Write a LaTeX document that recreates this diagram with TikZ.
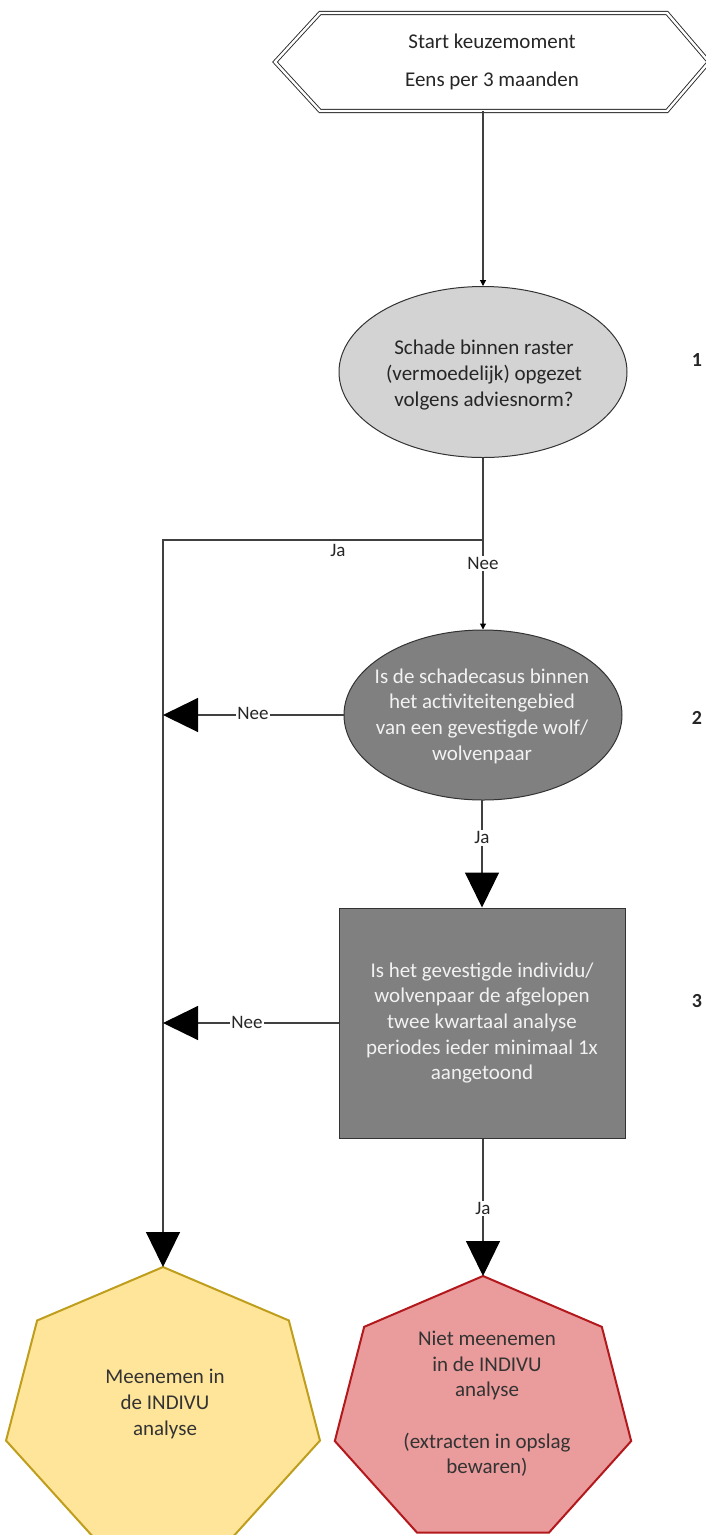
\documentclass[tikz,border=0pt]{standalone}
\usepackage{fontspec}
\setmainfont{Carlito}
\usetikzlibrary{arrows.meta,shapes.geometric}
\definecolor{lightfill}{RGB}{211,211,211}
\definecolor{darkfill}{RGB}{128,128,128}
\definecolor{yfill}{RGB}{255,229,153}
\definecolor{ydraw}{RGB}{190,158,28}
\definecolor{rfill}{RGB}{234,155,155}
\definecolor{rdraw}{RGB}{178,24,28}
\definecolor{linecol}{RGB}{64,64,64}
\definecolor{lighttext}{RGB}{242,242,242}
\tikzset{
  main/.style={font=\fontsize{21}{25.6}\selectfont, align=center, inner sep=0pt},
  lbl/.style={font=\fontsize{19}{22}\selectfont, fill=white, inner sep=1.5pt, text=black!85},
  numlbl/.style={font=\fontsize{20}{22}\selectfont\bfseries, text=black!85},
  conn/.style={draw=linecol, line width=1.1pt},
  smallarrow/.style={conn, -{Triangle[length=6pt,width=6pt,color=black]}},
  bigarrow/.style={conn, -{Triangle[length=35pt,width=34pt,color=black]}},
  shapeborder/.style={draw=black!80, line width=1pt},
}
\begin{document}
\begin{tikzpicture}[x=1pt,y=-1pt]
\useasboundingbox (0,0) rectangle (705,1535);
% start hexagon (double outline)
\draw[draw=black!85, double=white, double distance=2.4pt, line width=0.9pt, line join=miter]
  (275,62) -- (320,13) -- (667,13) -- (709,62) -- (667,111) -- (320,111) -- cycle;
\node[main, text=black!85] (start) at (492,62) {Start keuzemoment\\[12.4pt]Eens per 3 maanden};
\coordinate (startbot) at (483,111);
% question 1
\node[ellipse, shapeborder, fill=lightfill, minimum width=288pt, minimum height=171pt, inner sep=0pt] (q1) at (483,372) {};
\node[main, text=black!85] (q1t) at (484,375) {Schade binnen raster\\(vermoedelijk) opgezet\\volgens adviesnorm?};
\node[numlbl] (n1) at (697,360) {1};
% question 2
\node[ellipse, shapeborder, fill=darkfill, minimum width=278pt, minimum height=170pt, inner sep=0pt] (q2) at (483,715) {};
\node[main, text=lighttext] (q2t) at (482,716) {Is de schadecasus binnen\\het activiteitengebied\\van een gevestigde wolf/\\wolvenpaar};
\node[numlbl] (n2) at (697,718) {2};
% question 3
\node[rectangle, shapeborder, fill=darkfill, minimum width=286pt, minimum height=230pt, main, text=lighttext] (q3) at (482,1023)
  {Is het gevestigde individu/\\wolvenpaar de afgelopen\\twee kwartaal analyse\\periodes ieder minimaal 1x\\aangetoond};
\node[numlbl] (n3) at (697,1001) {3};
% yellow heptagon
\draw[fill=yfill, draw=ydraw, line width=2pt, line join=miter]
  plot[samples at={0,...,6}] ({163+161*cos(90+\x*360/7)},{1409-142*sin(90+\x*360/7)}) -- cycle;
\coordinate (ytop) at (163,1267);
\node[main, text=black!80] (yes) at (165,1404) {Meenemen in\\de INDIVU\\analyse};
% red heptagon
\draw[fill=rfill, draw=rdraw, line width=2pt, line join=miter]
  plot[samples at={0,...,6}] ({483+152*cos(90+\x*360/7)},{1411-135*sin(90+\x*360/7)}) -- cycle;
\coordinate (rtop) at (483,1276);
\node[main, text=black!80] (no) at (487,1404) {Niet meenemen\\in de INDIVU\\analyse\\[25.6pt](extracten in opslag\\bewaren)};
% connectors
\coordinate (J) at (483,540);
\coordinate (L) at (163,540);
\draw[smallarrow] (startbot) -- (q1.north);
\draw[bigarrow] (q1.south) -- (J) -- (L) -- (ytop);
\node[lbl] (ja1) at (338,550) {Ja};
\draw[smallarrow] (J) -- (q2.north) node[lbl, pos=0.26] (nee1) {Nee};
\draw[bigarrow] (q2.west) -- (q2.west -| L);
\node[lbl] (nee2) at (253,713) {Nee};
\draw[bigarrow] (q2.south) -- (q3.north |- q2.south) -- (q3.north) node[lbl, pos=0.35] (ja2) {Ja};
\draw[bigarrow] (q3.west) -- (q3.west -| L);
\node[lbl] (nee3) at (247,1022) {Nee};
\draw[bigarrow] (q3.south -| rtop) -- (rtop) node[lbl, pos=0.51] (ja3) {Ja};
\end{tikzpicture}
\end{document}
